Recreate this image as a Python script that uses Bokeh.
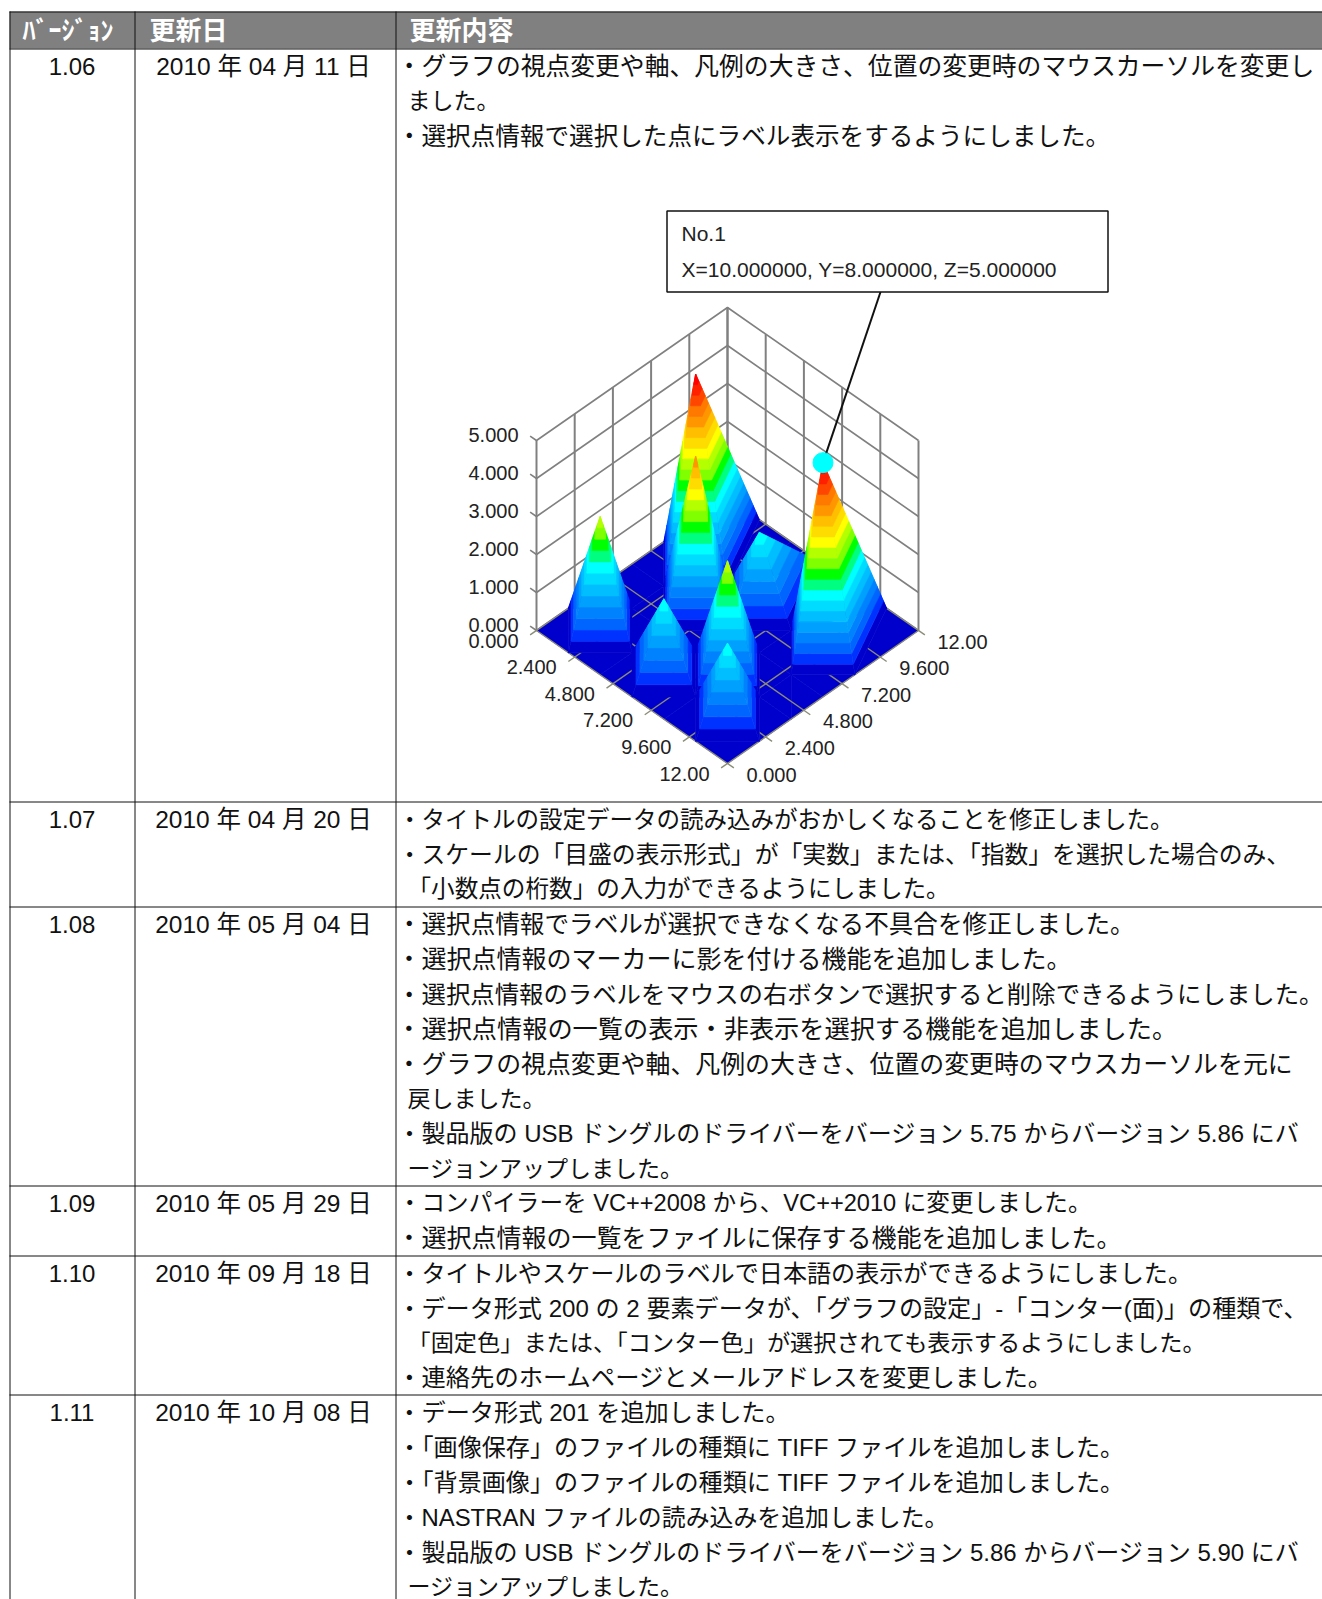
from bokeh.plotting import figure
from bokeh.models import Range1d, ColumnDataSource
from bokeh.core.properties import value
from bokeh.embed import file_html
from bokeh.resources import INLINE

# ---------- table data ----------
VERSIONS = ["1.06", "1.07", "1.08", "1.09", "1.10", "1.11"]
DATES = ["2010 年 04 月 11 日", "2010 年 04 月 20 日", "2010 年 05 月 04 日",
         "2010 年 05 月 29 日", "2010 年 09 月 18 日", "2010 年 10 月 08 日"]
HEADERS = ["ﾊﾞｰｼﾞｮﾝ", "更新日", "更新内容"]
NOTES = [
    ["・グラフの視点変更や軸、凡例の大きさ、位置の変更時のマウスカーソルを変更し",
     "ました。",
     "・選択点情報で選択した点にラベル表示をするようにしました。"],
    ["・タイトルの設定データの読み込みがおかしくなることを修正しました。",
     "・スケールの「目盛の表示形式」が「実数」または、「指数」を選択した場合のみ、",
     "「小数点の桁数」の入力ができるようにしました。"],
    ["・選択点情報でラベルが選択できなくなる不具合を修正しました。",
     "・選択点情報のマーカーに影を付ける機能を追加しました。",
     "・選択点情報のラベルをマウスの右ボタンで選択すると削除できるようにしました。",
     "・選択点情報の一覧の表示・非表示を選択する機能を追加しました。",
     "・グラフの視点変更や軸、凡例の大きさ、位置の変更時のマウスカーソルを元に",
     "戻しました。",
     "・製品版の USB ドングルのドライバーをバージョン 5.75 からバージョン 5.86 にバ",
     "ージョンアップしました。"],
    ["・コンパイラーを VC++2008 から、VC++2010 に変更しました。",
     "・選択点情報の一覧をファイルに保存する機能を追加しました。"],
    ["・タイトルやスケールのラベルで日本語の表示ができるようにしました。",
     "・データ形式 200 の 2 要素データが、「グラフの設定」-「コンター(面)」の種類で、",
     "「固定色」または、「コンター色」が選択されても表示するようにしました。",
     "・連絡先のホームページとメールアドレスを変更しました。"],
    ["・データ形式 201 を追加しました。",
     "・「画像保存」のファイルの種類に TIFF ファイルを追加しました。",
     "・「背景画像」のファイルの種類に TIFF ファイルを追加しました。",
     "・NASTRAN ファイルの読み込みを追加しました。",
     "・製品版の USB ドングルのドライバーをバージョン 5.86 からバージョン 5.90 にバ",
     "ージョンアップしました。"],
]
# ---------- surface data ----------
X_GRID = [0, 2, 4, 6, 8, 10, 12]
Y_GRID = [0, 2, 4, 6, 8, 12]
Z_GRID = [  # rows by Y, columns by X
    [0, 0, 0, 0, 0, 0, 0],
    [0, 3, 0, 2, 0, 2, 0],
    [0, 0, 0, 0, 3, 0, 0],
    [0, 0, 4, 0, 0, 0, 0],
    [0, 5, 0, 2, 0, 5, 0],
    [0, 0, 0, 0, 0, 0, 0],
]
XY_TICKS = [0.0, 2.4, 4.8, 7.2, 9.6, 12.0]
XY_LABELS = ["0.000", "2.400", "4.800", "7.200", "9.600", "12.00"]
Z_TICKS = [0, 1, 2, 3, 4, 5]
Z_LABELS = ["0.000", "1.000", "2.000", "3.000", "4.000", "5.000"]
LEVELS = [0.25 * i for i in range(21)]
BAND_COLORS = ["#0000CC", "#0032FF", "#0064FF", "#0082FF", "#00A0FF", "#00BEFF", "#00DCFF",
               "#00FFFF", "#00FF80", "#00FF00", "#80FF00", "#B4FF00", "#FFFF00", "#FFDC00",
               "#FFBE00", "#FF9600", "#FF7800", "#FF4600", "#FF2000", "#FF0000"]
SELECTED = (10.0, 8.0, 5.0)
LABEL_LINES = ["No.1", "X=10.000000, Y=8.000000, Z=5.000000"]

# ---------- layout ----------
COLS = [9, 134, 395, 1322]
HEAD_TOP, HEAD_BOTTOM = 11, 48
PITCH = 34.9
FIRST_ROW_H = 753
NOTE_SIZES = [[24.8, 23.0, 24.6], [23.5, 23.8, 23.6],
              [24.6, 25.0, 24.4, 25.2, 24.9, 23.0, 24.0, 23.0],
              [23.6, 25.0], [24.1, 24.1, 23.2, 24.3],
              [24.2, 24.1, 24.1, 23.9, 24.0, 23.0]]
UI = '"Liberation Sans", "Noto Sans CJK JP"'
O_X, O_Y, KX, KY, KZ = 536.0, 630.0, 191 / 12, 133 / 12, 38.0


def proj(a, b, z=0.0):
    return O_X + (a + b) * KX, O_Y + (a - b) * KY - z * KZ


p = figure(width=1322, height=1599, output_backend="svg", toolbar_location=None,
           x_range=Range1d(0, 1322), y_range=Range1d(1599, 0),
           x_axis_type=None, y_axis_type=None, min_border=0, outline_line_color=None,
           background_fill_color="white", border_fill_color="white")
p.grid.visible = False

# table
rows_top = [HEAD_BOTTOM, HEAD_BOTTOM + FIRST_ROW_H]
for n in NOTES[1:]:
    rows_top.append(rows_top[-1] + len(n) * PITCH)
p.quad(left=COLS[0], right=COLS[-1], top=HEAD_TOP, bottom=HEAD_BOTTOM, fill_color="#808080", line_color=None)
for c in COLS[:3]:
    x = c + 0.5
    p.line([x, x], [HEAD_TOP, 1599], line_color="#111111", line_width=1)
for y in [HEAD_TOP] + rows_top:
    yy = round(y) + 0.5
    p.line([COLS[0], COLS[-1]], [yy, yy], line_color="#111111", line_width=1)

head = ColumnDataSource(dict(x=[22, 149, 409], y=[30.5, 30.5, 30.5], t=HEADERS))
p.text("x", "y", text="t", source=head, text_font=value(UI), text_font_size=value("26px"),
       text_font_style="bold", text_color="white", text_baseline="middle")

vy, vt, dt, nx, ny, nt, ns = [], [], [], [], [], [], []
for top, v, d, lines, sizes in zip(rows_top, VERSIONS, DATES, NOTES, NOTE_SIZES):
    vy.append(top + 18); vt.append(v); dt.append(d)
    for i, (l, s) in enumerate(zip(lines, sizes)):
        ny.append(top + 18 + i * PITCH); nt.append(l); ns.append(f"{s}px")
        nx.append(421 - s if l.startswith("・") else 407)
src_v = ColumnDataSource(dict(x=[71.5] * 6, y=vy, t=vt))
src_d = ColumnDataSource(dict(x=[263] * 6, y=vy, t=dt))
src_n = ColumnDataSource(dict(x=nx, y=ny, t=nt, s=ns))
common = dict(text_font=value(UI), text_color="#111111", text_baseline="middle")
p.text("x", "y", text="t", source=src_v, text_align="center", text_font_size=value("24px"), **common)
p.text("x", "y", text="t", source=src_d, text_align="center", text_font_size=value("24.5px"), **common)
p.text("x", "y", text="t", source=src_n, text_align="left", text_font_size="s", **common)

# walls
WALL = "#808080"
for t in XY_TICKS:
    for a, b in ((0, t), (t, 12)):
        x0, y0 = proj(a, b, 0); x1, y1 = proj(a, b, Z_TICKS[-1])
        p.line([x0, x1], [y0, y1], line_color=WALL, line_width=2)
for z in Z_TICKS:
    xs, ys = zip(proj(-0.4, 0, z), proj(0, 0, z), proj(0, 12, z), proj(12, 12, z))
    p.line(list(xs), list(ys), line_color=WALL, line_width=1.6)


def cut(pts, keep, lim):
    out = []
    for i, q in enumerate(pts):
        r = pts[(i + 1) % len(pts)]
        kq, kr = keep(q[2]), keep(r[2])
        if kq:
            out.append(q)
        if kq != kr:
            s = (lim - q[2]) / (r[2] - q[2])
            out.append((q[0] + s * (r[0] - q[0]), q[1] + s * (r[1] - q[1]), lim))
    return out


def clip(poly, lo, hi):
    pts = cut(poly, lambda v: v >= lo, lo)
    return cut(pts, lambda v: v <= hi, hi) if pts else pts


# triangles: each cell split along the diagonal with the smaller height change
tris = []
for j in range(len(Y_GRID) - 1):
    for i in range(len(X_GRID) - 1):
        P = [(X_GRID[i + s], Y_GRID[j + t], Z_GRID[j + t][i + s]) for s, t in ((0, 0), (1, 0), (1, 1), (0, 1))]
        if abs(P[0][2] - P[2][2]) < abs(P[1][2] - P[3][2]):
            tris += [[P[0], P[1], P[2]], [P[0], P[2], P[3]]]
        else:
            tris += [[P[0], P[1], P[3]], [P[1], P[2], P[3]]]
flat = [t for t in tris if max(v[2] for v in t) == 0]
raised = sorted([t for t in tris if max(v[2] for v in t) > 0], key=lambda t: sum(v[0] - v[1] for v in t))


def draw(ts):
    xs, ys, cs = [], [], []
    for t in ts:
        for k, col in enumerate(BAND_COLORS):
            pts = clip(t, LEVELS[k], LEVELS[k + 1])
            if len(pts) >= 3:
                sc = [proj(*q) for q in pts]
                xs.append([q[0] for q in sc]); ys.append([q[1] for q in sc]); cs.append(col)
    p.patches(xs, ys, fill_color=cs, line_color=cs, line_width=0.6)


draw(flat)
# floor grid and ticks
FLOOR = "#8C8C78"
for t in XY_TICKS:
    xs, ys = zip(proj(t, -0.4), proj(t, 12))
    p.line(list(xs), list(ys), line_color=FLOOR, line_width=1.4)
    xs, ys = zip(proj(0, t), proj(12.4, t))
    p.line(list(xs), list(ys), line_color=FLOOR, line_width=1.4)
draw(raised)

# tick labels
lab = dict(text_font=value("Liberation Sans"), text_color="#222222", text_baseline="middle")
size20 = value("20px")
zp = [proj(0, 0, z) for z in Z_TICKS]
p.text([q[0] - 18 for q in zp], [q[1] - 6 for q in zp], text=Z_LABELS, text_align="right", text_font_size=size20, **lab)
lp = [proj(t, 0) for t in XY_TICKS]
p.text([q[0] - 18 for q in lp], [q[1] + 10 for q in lp], text=XY_LABELS, text_align="right", text_font_size=size20, **lab)
rp = [proj(12, t) for t in XY_TICKS]
p.text([q[0] + 19 for q in rp], [q[1] + 11 for q in rp], text=XY_LABELS, text_align="left", text_font_size=size20, **lab)

# selected point and label
mx, my = proj(*SELECTED)
BOX = (666.5, 1107.5, 210.5, 291.5)
p.line([mx, 880], [my, BOX[3]], line_color="#111111", line_width=2)
p.scatter([mx], [my], size=20, marker="circle", fill_color="#00FFFF", line_color="#00FFFF")
p.quad(left=BOX[0], right=BOX[1], top=BOX[2], bottom=BOX[3], fill_color="white", line_color="#111111", line_width=1.5)
p.text([681, 681], [233, 268.5], text=LABEL_LINES, text_font_size=value("21px"), **lab)

open("out.html", "w").write(file_html(p, INLINE))
